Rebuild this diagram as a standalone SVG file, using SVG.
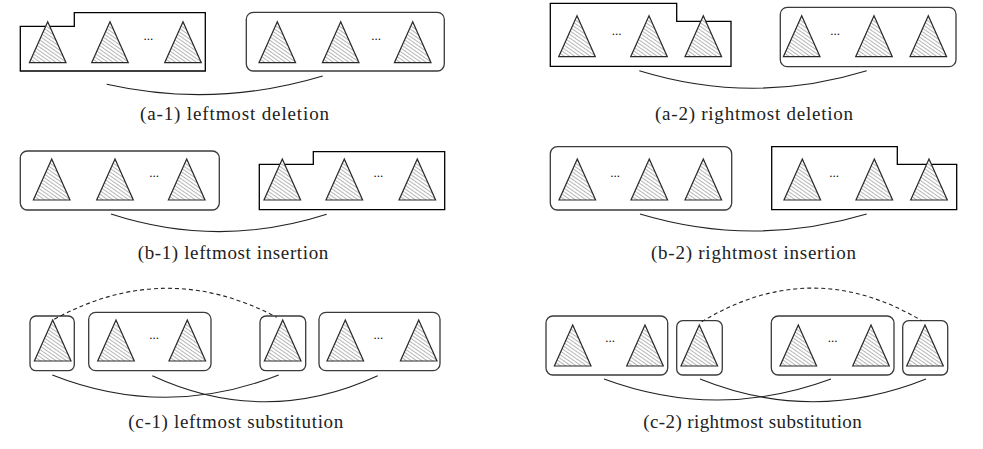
<svg xmlns="http://www.w3.org/2000/svg" xmlns:xlink="http://www.w3.org/1999/xlink" width="983" height="449" viewBox="0 0 983 449">
<style>
.bg{fill:#fff}
.nb{fill:none;stroke:#000;stroke-width:1.3}
.rb{fill:none;stroke:#3a3a3a;stroke-width:1.3}
.tri{fill:url(#hatch);stroke:#2a2a2a;stroke-width:1.2;stroke-linejoin:miter}
.dots{font-family:"Liberation Serif",serif;font-size:13px;fill:#111;text-anchor:middle}
.cap{font-family:"Liberation Serif",serif;font-size:19px;fill:#222;text-anchor:middle}
.arc{fill:none;stroke:#222;stroke-width:1.1}
.dash{fill:none;stroke:#222;stroke-width:1.1;stroke-dasharray:4 3}
</style>
<defs>
<pattern id="hatch" patternUnits="userSpaceOnUse" width="3" height="3" patternTransform="rotate(35)">
<rect width="3" height="3" fill="#fff"/>
<line x1="0" y1="1.5" x2="3" y2="1.5" stroke="#858585" stroke-width="0.6"/>
</pattern>
<path id="t" class="tri" d="M0,0 L-18.3,41 L18.3,41 Z"/>
</defs>
<rect class="bg" width="983" height="449"/>

<g id="a1">
<g id="a1-left"><path class="nb" d="M20.3,26.3 H74.3 V12.7 H205.3 V71 H20.3 Z"/>
<use xlink:href="#t" x="47.7" y="21.7"/><use xlink:href="#t" x="110" y="21.7"/><use xlink:href="#t" x="183" y="21.7"/>
<text class="dots" x="148.3" y="40">...</text></g>
<g id="a1-right"><rect class="rb" x="246.3" y="12.3" width="198" height="58.7" rx="7"/>
<use xlink:href="#t" x="277.3" y="21.7"/><use xlink:href="#t" x="340.7" y="21.7"/><use xlink:href="#t" x="412.7" y="21.7"/>
<text class="dots" x="376" y="40">...</text></g>
<text class="cap" x="234.5" y="119.5" textLength="189" lengthAdjust="spacing">(a-1) leftmost deletion</text>
</g>

<g id="a2">
<g id="a2-left"><path class="nb" d="M550.3,3.3 H676.7 V21.3 H731 V66.3 H550.3 Z"/>
<use xlink:href="#t" x="577" y="15.7"/><use xlink:href="#t" x="649" y="15.7"/><use xlink:href="#t" x="703.3" y="15.7"/>
<text class="dots" x="616.7" y="34.7">...</text></g>
<g id="a2-right"><rect class="rb" x="780.3" y="7.3" width="175.7" height="59.4" rx="7"/>
<use xlink:href="#t" x="801.7" y="15.7"/><use xlink:href="#t" x="874" y="15.7"/><use xlink:href="#t" x="928.3" y="15.7"/>
<text class="dots" x="835" y="34.7">...</text></g>
<text class="cap" x="754" y="119.5" textLength="198" lengthAdjust="spacing">(a-2) rightmost deletion</text>
</g>

<g id="b1">
<g id="b1-left"><rect class="rb" x="20.3" y="151" width="199" height="59" rx="7"/>
<use xlink:href="#t" x="51.7" y="159"/><use xlink:href="#t" x="115" y="159"/><use xlink:href="#t" x="186.7" y="159"/>
<text class="dots" x="154" y="177.4">...</text></g>
<g id="b1-right"><path class="nb" d="M259.3,164.3 H313.3 V151.7 H444.7 V209.7 H259.3 Z"/>
<use xlink:href="#t" x="282.3" y="159"/><use xlink:href="#t" x="344.3" y="159"/><use xlink:href="#t" x="417.3" y="159"/>
<text class="dots" x="378.3" y="177.4">...</text></g>
<text class="cap" x="233" y="259.3" textLength="190.6" lengthAdjust="spacing">(b-1) leftmost insertion</text>
</g>

<g id="b2">
<g id="b2-left"><rect class="rb" x="550.3" y="146.7" width="181.4" height="63.3" rx="7"/>
<use xlink:href="#t" x="577.3" y="159"/><use xlink:href="#t" x="649.3" y="159"/><use xlink:href="#t" x="703.3" y="159"/>
<text class="dots" x="615" y="176.7">...</text></g>
<g id="b2-right"><path class="nb" d="M771.7,146.7 H897.3 V164.3 H956.7 V209.7 H771.7 Z"/>
<use xlink:href="#t" x="802.3" y="159"/><use xlink:href="#t" x="874.3" y="159"/><use xlink:href="#t" x="929" y="159"/>
<text class="dots" x="834" y="176.7">...</text></g>
<text class="cap" x="753.5" y="259.3" textLength="205" lengthAdjust="spacing">(b-2) rightmost insertion</text>
</g>

<g id="c1">
<g id="c1-n1"><rect class="rb" x="30" y="316" width="44.3" height="54.7" rx="6"/><use xlink:href="#t" x="52.7" y="320"/></g>
<g id="c1-n2"><rect class="rb" x="88.7" y="312.3" width="122.3" height="58.4" rx="7"/>
<use xlink:href="#t" x="116" y="320"/><use xlink:href="#t" x="187.3" y="320"/>
<text class="dots" x="154" y="339">...</text></g>
<g id="c1-n3"><rect class="rb" x="260" y="316" width="45.7" height="54.7" rx="6"/><use xlink:href="#t" x="282.7" y="320"/></g>
<g id="c1-n4"><rect class="rb" x="319" y="312.3" width="121" height="58.4" rx="7"/>
<use xlink:href="#t" x="345.3" y="320"/><use xlink:href="#t" x="418.7" y="320"/>
<text class="dots" x="378.3" y="339">...</text></g>
<text class="cap" x="235.8" y="427.7" textLength="215" lengthAdjust="spacing">(c-1) leftmost substitution</text>
</g>

<g id="c2">
<g id="c2-n1"><rect class="rb" x="546" y="316" width="121.7" height="59" rx="7"/>
<use xlink:href="#t" x="572.7" y="325"/><use xlink:href="#t" x="645" y="325"/>
<text class="dots" x="610" y="342.4">...</text></g>
<g id="c2-n2"><rect class="rb" x="676.7" y="320.7" width="45.6" height="54.3" rx="6"/><use xlink:href="#t" x="699.3" y="325"/></g>
<g id="c2-n3"><rect class="rb" x="771.3" y="316" width="122.7" height="59" rx="7"/>
<use xlink:href="#t" x="798.3" y="325"/><use xlink:href="#t" x="871" y="325"/>
<text class="dots" x="832.7" y="342.4">...</text></g>
<g id="c2-n4"><rect class="rb" x="902.7" y="320.7" width="45" height="54.3" rx="6"/><use xlink:href="#t" x="925" y="325"/></g>
<text class="cap" x="752.5" y="427.7" textLength="218.4" lengthAdjust="spacing">(c-2) rightmost substitution</text>
</g>

<g id="connectors">
<path class="arc" d="M106.7,84.3 Q214.7,108.5 322.7,76"/>
<path class="arc" d="M639.3,70.7 Q753,105.7 866.7,70.7"/>
<path class="arc" d="M111,214 Q218.8,249 326.7,214.3"/>
<path class="arc" d="M640,214 Q753.3,248 866.7,214"/>
<path class="arc" d="M52.3,375 Q165.5,419.6 278.7,375"/>
<path class="arc" d="M152.3,375.7 Q265,427.7 377.7,375.7"/>
<path class="dash" d="M54.3,319.3 Q165.5,258.3 276.7,317.3"/>
<path class="arc" d="M604,379 Q717.5,421 831,379"/>
<path class="arc" d="M700,379 Q813,424.4 926,379"/>
<path class="dash" d="M701.7,321.7 Q811.7,255 921.7,320.7"/>
</g>
</svg>
